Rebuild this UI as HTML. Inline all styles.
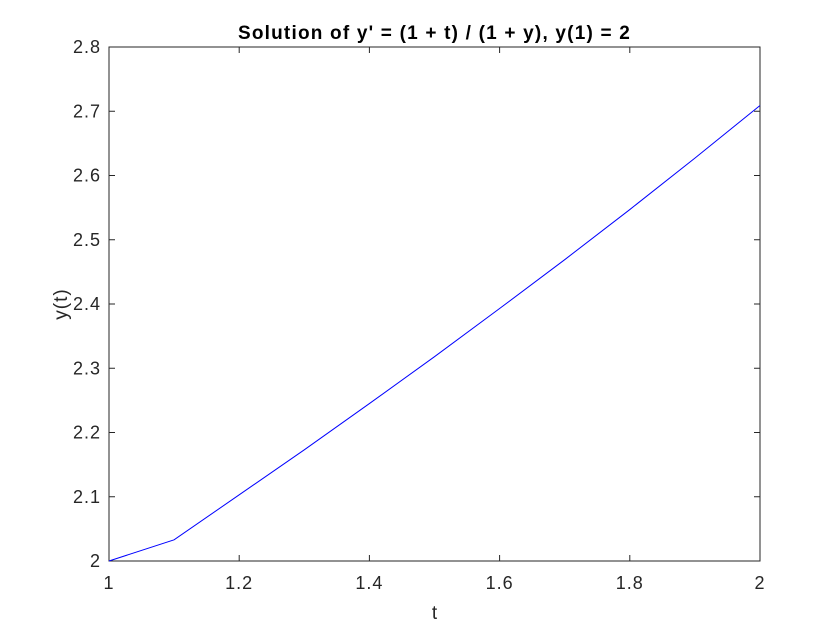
<!DOCTYPE html>
<html><head><meta charset="utf-8"><style>
body{margin:0;background:#fff;width:840px;height:630px;overflow:hidden}
svg{font-family:"Liberation Sans",Arial,sans-serif}
</style></head><body>
<svg id="chart" width="840" height="630" xmlns="http://www.w3.org/2000/svg">
<rect width="840" height="630" fill="#fff"/>
<g id="axes"></g>
</svg>
<script>
const tValues=[1.0,1.1,1.2,1.3,1.4,1.5,1.6,1.7,1.8,1.9,2.0];
const yValues=[2.0,2.033,2.103,2.173,2.245,2.318,2.393,2.469,2.547,2.627,2.709];
const xTicks=[1,1.2,1.4,1.6,1.8,2];
const xTickLabels=["1","1.2","1.4","1.6","1.8","2"];
const yTicks=[2,2.1,2.2,2.3,2.4,2.5,2.6,2.7,2.8];
const yTickLabels=["2","2.1","2.2","2.3","2.4","2.5","2.6","2.7","2.8"];
const L=109,R=760,T=47,B=561;
const xs=v=>L+(v-1)/(2-1)*(R-L);
const ys=v=>B-(v-2)/(2.8-2)*(B-T);
const NS="http://www.w3.org/2000/svg";
const g=document.getElementById('axes');
function mk(tag,attrs,text){const e=document.createElementNS(NS,tag);for(const k in attrs)e.setAttribute(k,attrs[k]);if(text!==undefined)e.textContent=text;g.appendChild(e);return e;}
const plot=mk('rect',{x:L,y:T,width:R-L,height:B-T,fill:'#fff',stroke:'#262626','stroke-width':1});


xTicks.forEach((v,i)=>{
 const x=xs(v);
 const t1=mk('line',{x1:x,y1:B,x2:x,y2:B-6,stroke:'#262626'});
 
 
 const t2=mk('line',{x1:x,y1:T,x2:x,y2:T+6,stroke:'#262626'});
 
 
 const lb=mk('text',{x:x,y:B+28,'text-anchor':'middle','font-size':18,'letter-spacing':1,fill:'#262626'},xTickLabels[i]);
 
 
});
yTicks.forEach((v,i)=>{
 const y=ys(v);
 const t1=mk('line',{x1:L,y1:y,x2:L+6,y2:y,stroke:'#262626'});
 
 
 const t2=mk('line',{x1:R,y1:y,x2:R-6,y2:y,stroke:'#262626'});
 
 
 const lb=mk('text',{x:L-8,y:y+6,'text-anchor':'end','font-size':18,'letter-spacing':1,fill:'#262626'},yTickLabels[i]);
 
 
});
const pts=tValues.map((t,i)=>xs(t)+','+ys(yValues[i])).join(' ');
const line=mk('polyline',{points:pts,fill:'none',stroke:'#0000ff','stroke-width':1});


const title=mk('text',{x:(L+R)/2,y:39,'text-anchor':'middle','font-size':19,'letter-spacing':1.2,'font-weight':'bold',fill:'#000'},"Solution of y' = (1 + t) / (1 + y), y(1) = 2");


const xl=mk('text',{x:(L+R)/2,y:619,'text-anchor':'middle','font-size':19,fill:'#262626'},'t');


const yl=mk('text',{x:0,y:0,'text-anchor':'middle','font-size':19,'letter-spacing':1,fill:'#262626',transform:'translate(67,'+((T+B)/2)+') rotate(-90)'},'y(t)');


</script>
</body></html>
